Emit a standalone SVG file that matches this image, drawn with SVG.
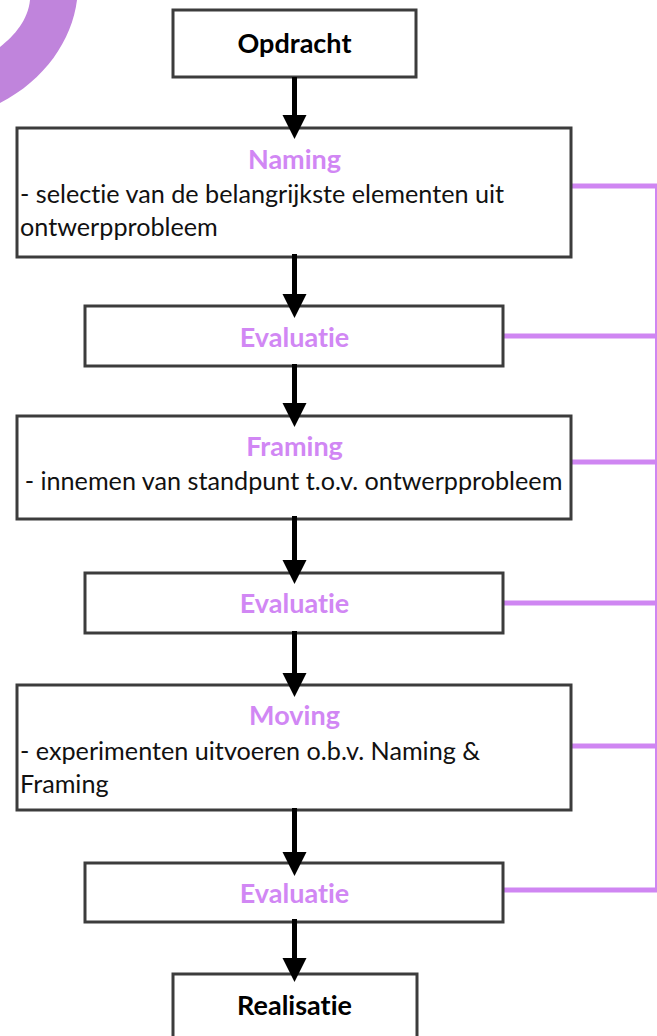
<svg xmlns="http://www.w3.org/2000/svg" width="657" height="1036" viewBox="0 0 657 1036">
  <defs>
    <style>
      text { font-family: Lato, "Liberation Sans", sans-serif; font-variant-ligatures: none; }
      .box { fill: #ffffff; stroke: #3c3c3c; stroke-width: 3; }
      .head { font-weight: 700; font-size: 27px; fill: #000000; text-anchor: middle; }
      .title { font-weight: 700; font-size: 27px; fill: #d187f4; text-anchor: middle; }
      .body { font-size: 25.2px; fill: #111111; }
      .shaft { stroke: #000000; stroke-width: 5; fill: none; }
      .tip { fill: #000000; }
      .fb { stroke: #cf86f2; stroke-width: 5; fill: none; }
      .fbv { stroke: #cf86f2; stroke-width: 2; fill: none; }
    </style>
  </defs>

  <rect width="657" height="1036" fill="#ffffff"/>

  <!-- decorative ring segment, top left corner -->
  <path d="M77,0 C72,40 45,80 0,103 L0,47 C15,35 28,20 30,0 Z" fill="#c084dc"/>

  <!-- feedback lines to the right rail -->
  <g id="feedback">
    <line class="fbv" x1="656" y1="184" x2="656" y2="892"/>
    <line class="fb" x1="572" y1="186" x2="657" y2="186"/>
    <line class="fb" x1="503" y1="336" x2="657" y2="336"/>
    <line class="fb" x1="572" y1="462" x2="657" y2="462"/>
    <line class="fb" x1="503" y1="603" x2="657" y2="603"/>
    <line class="fb" x1="572" y1="746" x2="657" y2="746"/>
    <line class="fb" x1="503" y1="890" x2="657" y2="890"/>
  </g>

  <g id="opdracht">
    <rect class="box" x="173" y="10" width="243" height="67"/>
    <text class="head" x="294.5" y="53">Opdracht</text>
  </g>

  <g id="naming">
    <rect class="box" x="17" y="128" width="554" height="129"/>
    <text class="title" x="294.5" y="169">Naming</text>
    <text class="body" x="20" y="203">- selectie van de belangrijkste elementen uit</text>
    <text class="body" x="20" y="236">ontwerpprobleem</text>
  </g>

  <g id="evaluatie-1">
    <rect class="box" x="85" y="306" width="418" height="60"/>
    <text class="title" x="294.5" y="347">Evaluatie</text>
  </g>

  <g id="framing">
    <rect class="box" x="17" y="416" width="554" height="103"/>
    <text class="title" x="294.5" y="456">Framing</text>
    <text class="body" x="293.5" y="490" text-anchor="middle">- innemen van standpunt t.o.v. ontwerpprobleem</text>
  </g>

  <g id="evaluatie-2">
    <rect class="box" x="85" y="573" width="418" height="60"/>
    <text class="title" x="294.5" y="613">Evaluatie</text>
  </g>

  <g id="moving">
    <rect class="box" x="17" y="685" width="554" height="125"/>
    <text class="title" x="294.5" y="725">Moving</text>
    <text class="body" x="20" y="760">- experimenten uitvoeren o.b.v. Naming &amp;</text>
    <text class="body" x="20" y="793">Framing</text>
  </g>

  <g id="evaluatie-3">
    <rect class="box" x="85" y="863" width="418" height="59"/>
    <text class="title" x="294.5" y="903">Evaluatie</text>
  </g>

  <g id="realisatie">
    <rect class="box" x="173" y="974" width="244" height="70"/>
    <text class="head" x="294.5" y="1015">Realisatie</text>
  </g>

  <g id="connectors">
    <line class="shaft" x1="294.5" y1="77" x2="294.5" y2="116"/>
    <polygon class="tip" points="282.5,115 306.5,115 294.5,139"/>
    <line class="shaft" x1="294.5" y1="254" x2="294.5" y2="295"/>
    <polygon class="tip" points="282.5,294 306.5,294 294.5,318"/>
    <line class="shaft" x1="294.5" y1="364" x2="294.5" y2="404"/>
    <polygon class="tip" points="282.5,403 306.5,403 294.5,427"/>
    <line class="shaft" x1="294.5" y1="516" x2="294.5" y2="561"/>
    <polygon class="tip" points="282.5,560 306.5,560 294.5,584"/>
    <line class="shaft" x1="294.5" y1="631" x2="294.5" y2="674"/>
    <polygon class="tip" points="282.5,673 306.5,673 294.5,697"/>
    <line class="shaft" x1="294.5" y1="808" x2="294.5" y2="853"/>
    <polygon class="tip" points="282.5,852 306.5,852 294.5,876"/>
    <line class="shaft" x1="294.5" y1="919" x2="294.5" y2="959"/>
    <polygon class="tip" points="282.5,958 306.5,958 294.5,982"/>
  </g>
</svg>
